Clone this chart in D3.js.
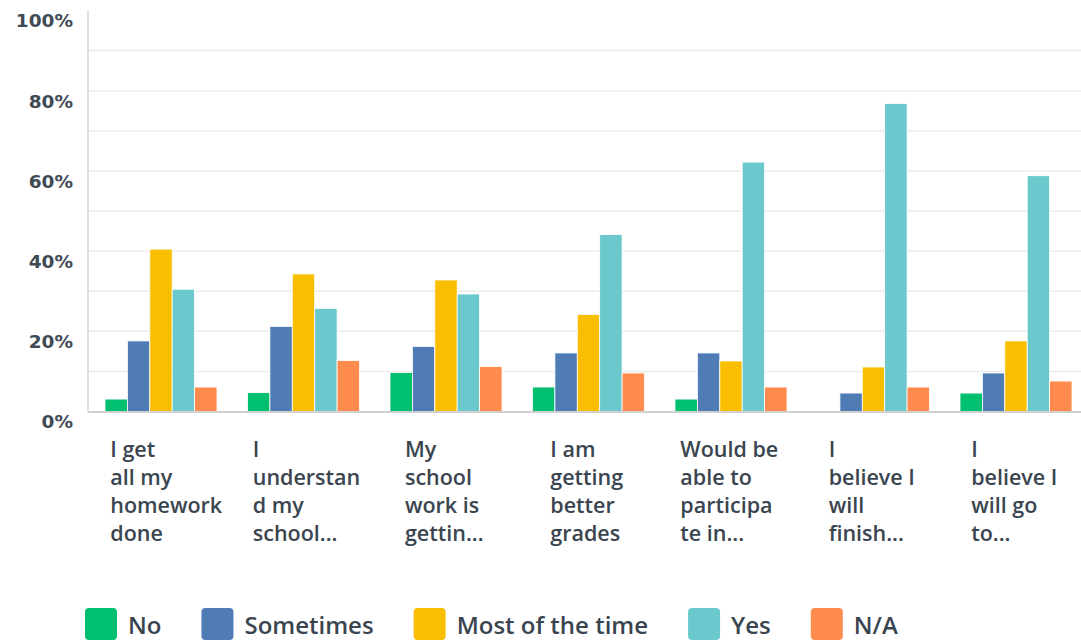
<!DOCTYPE html>
<html>
<head>
<meta charset="utf-8">
<script src="https://cdn.jsdelivr.net/npm/d3@7"></script>
<style>
  html, body { margin: 0; padding: 0; background: #ffffff; }
  svg { display: block; }
</style>
</head>
<body>
<svg id="chart" width="1081" height="641"></svg>
<script>
// Survey statements, as wrapped/truncated on the category axis
const categoryLines = [
  ["I get", "all my", "homework", "done"],
  ["I", "understan", "d my", "school..."],
  ["My", "school", "work is", "gettin..."],
  ["I am", "getting", "better", "grades"],
  ["Would be", "able to", "participa", "te in..."],
  ["I", "believe I", "will", "finish..."],
  ["I", "believe I", "will go", "to..."]
];
const categories = categoryLines.map(l => l.join(" "));

const seriesNames = ["No", "Sometimes", "Most of the time", "Yes", "N/A"];
const seriesColors = ["#00bf6f", "#507cb6", "#f9be00", "#6bc8cd", "#ff8b4f"];

// Percent of respondents per answer
const noValues        = [3.1, 4.7, 9.7, 6.1, 3.1, 0, 4.6];
const sometimesValues = [17.6, 21.2, 16.2, 14.6, 14.6, 4.6, 9.6];
const mostValues      = [40.5, 34.3, 32.8, 24.2, 12.6, 11.1, 17.6];
const yesValues       = [30.5, 25.7, 29.3, 44.1, 62.2, 76.8, 58.8];
const naValues        = [6.1, 12.7, 11.2, 9.6, 6.1, 6.1, 7.6];

const yTickValues = [0, 20, 40, 60, 80, 100];
const gridValues  = [10, 20, 30, 40, 50, 60, 70, 80, 90];

const seriesValues = [noValues, sometimesValues, mostValues, yesValues, naValues];
const rows = categories.map((c, i) => ({
  category: c,
  lines: categoryLines[i],
  values: seriesNames.map((s, j) => ({ series: s, value: seriesValues[j][i], color: seriesColors[j] }))
}));

const svg = d3.select("#chart");
const textColor = "#3a4550";

const plotLeft = 88, plotTop = 10.5, plotBottom = 411.5, bandStep = 142.5;
const x = d3.scaleBand().domain(categories).range([plotLeft, plotLeft + bandStep * categories.length]).padding(0);
const xInner = d3.scaleBand().domain(seriesNames).range([17, 129]).padding(0);
const y = d3.scaleLinear().domain([0, 100]).range([plotBottom, plotTop]);

// Gridlines
svg.append("g")
  .selectAll("line")
  .data(gridValues)
  .join("line")
  .attr("x1", plotLeft).attr("x2", 1081)
  .attr("y1", d => y(d)).attr("y2", d => y(d))
  .attr("stroke", "#ececec").attr("stroke-width", 1.5);

// Vertical axis line
svg.append("line")
  .attr("x1", plotLeft).attr("x2", plotLeft)
  .attr("y1", y(100)).attr("y2", plotBottom)
  .attr("stroke", "#d6d6d6").attr("stroke-width", 1.5);

// Y tick labels
const yAxis = d3.axisLeft(y).tickValues(yTickValues).tickSize(0).tickPadding(0).tickFormat(d => d + "%");
const yG = svg.append("g").attr("transform", `translate(${plotLeft - 15},10.5)`).call(yAxis);
yG.select(".domain").remove();
yG.selectAll("text")
  .attr("fill", "#404a55")
  .style("font-family", "'DejaVu Sans', sans-serif")
  .style("font-weight", "bold")
  .style("font-size", "18.5px");

// Bars
const groups = svg.append("g")
  .selectAll("g")
  .data(rows)
  .join("g")
  .attr("transform", d => `translate(${x(d.category)},0)`);

groups.selectAll("rect")
  .data(d => d.values.filter(v => v.value > 0))
  .join("rect")
  .attr("x", d => xInner(d.series))
  .attr("width", xInner.bandwidth())
  .attr("y", d => y(d.value))
  .attr("height", d => plotBottom - y(d.value))
  .attr("fill", d => d.color)
  .attr("stroke", "#ffffff")
  .attr("stroke-width", 0.8);

// Baseline
svg.append("line")
  .attr("x1", plotLeft).attr("x2", 1081)
  .attr("y1", plotBottom + 0.5).attr("y2", plotBottom + 0.5)
  .attr("stroke", "#d0d0d0").attr("stroke-width", 2);

// Category labels: a left-aligned text block, centred under its band,
// whose width is the longest line capped at the wrap width
const wrapWidth = 98;
groups.each(function(d) {
  const g = d3.select(this);
  const text = g.append("text")
    .attr("y", 457)
    .attr("fill", textColor)
    .style("font-family", "'Open Sans', sans-serif")
    .style("font-weight", 600)
    .style("font-size", "21.5px");
  const spans = text.selectAll("tspan")
    .data(d.lines)
    .join("tspan")
    .attr("dy", (s, i) => i === 0 ? 0 : 28)
    .text(s => s);
  const widest = d3.max(spans.nodes(), n => n.getComputedTextLength());
  const blockWidth = Math.min(widest, wrapWidth);
  spans.attr("x", x.bandwidth() / 2 - blockWidth / 2);
});

// Legend
const legend = svg.append("g").attr("transform", "translate(85,608)");
let lx = 0;
seriesNames.forEach((name, i) => {
  const item = legend.append("g").attr("transform", `translate(${lx},0)`);
  item.append("rect")
    .attr("width", 32).attr("height", 32)
    .attr("rx", 4).attr("ry", 4)
    .attr("fill", seriesColors[i]);
  const t = item.append("text")
    .attr("x", 43).attr("y", 16)
    .attr("dominant-baseline", "central")
    .attr("fill", textColor)
    .style("font-family", "'Open Sans', sans-serif")
    .style("font-weight", 600)
    .style("font-size", "24px")
    .text(name);
  lx += 43 + t.node().getComputedTextLength() + 40;
});
</script>
</body>
</html>
